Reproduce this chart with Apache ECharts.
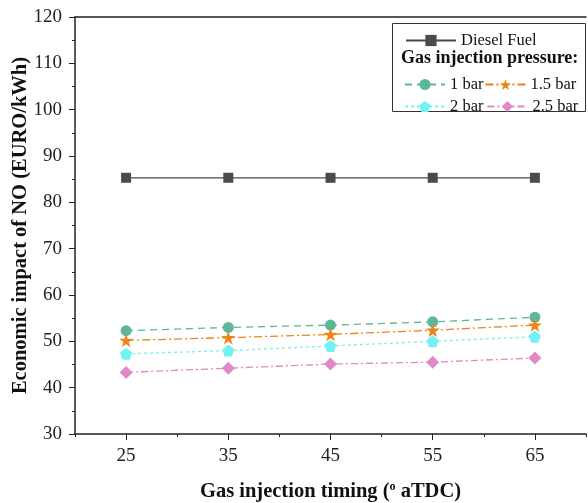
<!DOCTYPE html>
<html>
<head>
<meta charset="utf-8">
<script src="https://cdn.jsdelivr.net/npm/echarts@6/dist/echarts.min.js"></script>
<style>
  html, body { margin: 0; padding: 0; background: #fff; }
  #main { width: 588px; height: 503px; }
</style>
</head>
<body>
<div id="main"></div>
<script>
var timing = [25, 35, 45, 55, 65];
var dieselFuel = [85.3, 85.3, 85.3, 85.3, 85.3];
var bar1 = [52.3, 53.0, 53.5, 54.2, 55.2];
var bar15 = [50.2, 50.8, 51.5, 52.4, 53.5];
var bar2 = [47.3, 48.0, 49.0, 50.0, 51.0];
var bar25 = [43.3, 44.2, 45.1, 45.5, 46.4];
var xTickLabels = [25, 35, 45, 55, 65];

var font = 'Liberation Serif';
var pentagon = 'path://M0,-1 L0.951,-0.309 L0.588,0.809 L-0.588,0.809 L-0.951,-0.309 Z';
var star = 'path://M0,-1 L0.2245,-0.309 L0.951,-0.309 L0.3633,0.118 L0.5878,0.809 L0,0.382 L-0.5878,0.809 L-0.3633,0.118 L-0.951,-0.309 L-0.2245,-0.309 Z';

function pairs(vals) {
    return timing.map(function (t, i) { return [t, vals[i]]; });
}

function mkSeries(name, vals, color, symbol, size, dash) {
    return {
        name: name,
        type: 'line',
        data: pairs(vals),
        symbol: symbol,
        symbolSize: size,
        itemStyle: { color: color },
        lineStyle: { color: color, width: 1.3, type: dash },
        emphasis: { disabled: true },
        animation: false
    };
}

var myChart = echarts.init(document.getElementById('main'));

var legendText = { fontFamily: font, fontSize: 16.5, color: '#111' };

var option = {
    backgroundColor: '#fff',
    grid: { left: 75, right: 2, top: 17, bottom: 69, outerBoundsMode: 'none', containLabel: false },
    xAxis: [{
        type: 'value',
        min: 20,
        max: 70,
        interval: 10,
        name: '{t|Gas injection timing (}{s|o}{t| aTDC)}',
        nameLocation: 'middle',
        nameGap: 47,
        nameMoveOverlap: false,
        nameTextStyle: {
            rich: {
                t: { fontFamily: font, fontSize: 20.5, fontWeight: 'bold', color: '#111' },
                s: { fontFamily: font, fontSize: 12, fontWeight: 'bold', color: '#111', verticalAlign: 'top', padding: [0, 0, 9, 0] }
            }
        },
        axisLine: { show: true, lineStyle: { color: '#222', width: 1.5 } },
        axisTick: { show: true, inside: false, length: 3, lineStyle: { color: '#222' } },
        minorTick: { show: true, splitNumber: 2, length: 6, lineStyle: { color: '#222' } },
        axisLabel: { customValues: xTickLabels, fontFamily: font, fontSize: 19, color: '#222', margin: 13 },
        splitLine: { show: false }
    }, {
        type: 'value',
        position: 'top',
        min: 20,
        max: 70,
        axisLine: { show: true, lineStyle: { color: '#222', width: 1.5 } },
        axisTick: { show: false },
        axisLabel: { show: false },
        splitLine: { show: false }
    }],
    yAxis: {
        type: 'value',
        min: 30,
        max: 120,
        interval: 10,
        name: 'Economic impact of NO (EURO/kWh)',
        nameLocation: 'middle',
        nameGap: 44,
        nameMoveOverlap: false,
        nameTextStyle: { fontFamily: font, fontSize: 20.5, fontWeight: 'bold', color: '#111' },
        axisLine: { show: true, lineStyle: { color: '#222', width: 1.5 } },
        axisTick: { show: true, inside: false, length: 6, lineStyle: { color: '#222' } },
        minorTick: { show: true, splitNumber: 2, length: 3, lineStyle: { color: '#222' } },
        axisLabel: { fontFamily: font, fontSize: 19, color: '#222', margin: 13 },
        splitLine: { show: false }
    },
    legend: [{
        data: ['Diesel Fuel'],
        left: 400, top: 27,
        itemWidth: 50, itemHeight: 14, itemGap: 4,
        textStyle: legendText
    }, {
        data: ['1 bar', '1.5 bar'],
        left: 399, top: 71,
        itemWidth: 40, itemHeight: 14, itemGap: 1,
        textStyle: legendText
    }, {
        data: ['2 bar', '2.5 bar'],
        left: 399, top: 93,
        itemWidth: 40, itemHeight: 14, itemGap: 3,
        textStyle: legendText
    }],
    graphic: [{
        type: 'rect',
        shape: { x: 392.5, y: 23.5, width: 193, height: 88 },
        style: { fill: 'none', stroke: '#333', lineWidth: 1 },
        z: 0
    }, {
        type: 'text',
        left: 401, top: 49,
        style: { text: 'Gas injection pressure:', fontFamily: font, fontSize: 18, fontWeight: 'bold', fill: '#111' }
    }],
    series: [
        mkSeries('Diesel Fuel', dieselFuel, '#4a4a4a', 'rect', 10, 'solid'),
        mkSeries('1 bar', bar1, '#5db897', 'circle', 11, [7, 5]),
        mkSeries('1.5 bar', bar15, '#ee8419', star, 14, [8, 3, 2, 3]),
        mkSeries('2 bar', bar2, '#72f2f2', pentagon, 12, [3, 3]),
        mkSeries('2.5 bar', bar25, '#e089c6', 'diamond', 13, [7, 3, 2, 3])
    ]
};

myChart.setOption(option);
</script>
</body>
</html>
